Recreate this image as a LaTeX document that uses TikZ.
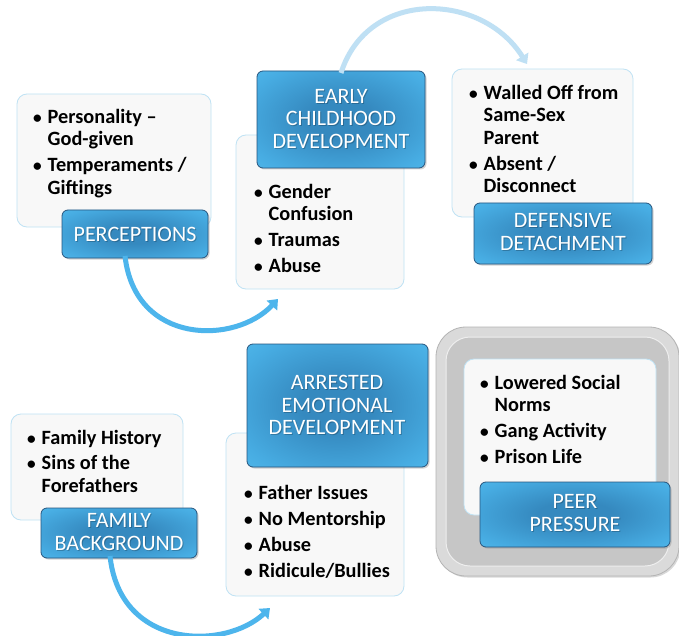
\documentclass[tikz,border=0pt]{standalone}
\usepackage{fontspec}
\setmainfont{Carlito}
\usetikzlibrary{arrows.meta,shadows}
\definecolor{boxfill}{HTML}{F8F8F8}
\definecolor{boxline}{HTML}{BFE2F4}
\definecolor{lblight}{HTML}{5DCAF7}
\definecolor{lbmid}{HTML}{47ACE2}
\definecolor{lbdark}{HTML}{3589BF}
\definecolor{lbline}{HTML}{27557E}
\definecolor{arrblue}{HTML}{4DB5EC}
\definecolor{arrpale}{HTML}{BFE0F4}
\definecolor{graymid}{HTML}{C6C6C6}
\definecolor{graylight}{HTML}{DADADA}
\definecolor{grayedge}{HTML}{B4B4B4}
\pgfdeclareradialshading{lblshade}{\pgfpoint{0bp}{0bp}}{%
  color(0bp)=(lbdark); color(10bp)=(lbdark); color(30bp)=(lbmid); color(50bp)=(lblight)}
\newcommand\bl[1]{\makebox[14.5pt][l]{\scalebox{0.85}{\textbullet}}#1}
\newcommand\cl[1]{\hspace*{14.5pt}#1}
\tikzset{
  txtbox/.style={draw=boxline, line width=0.8pt, fill=boxfill, rounded corners=10pt},
  lblbox/.style={draw=lbline, line width=0.8pt, rounded corners=6pt,
     shading=lblshade,
     drop shadow={opacity=0.35, shadow xshift=1.5pt, shadow yshift=-1.5pt}},
  lbltext/.style={text=white, align=center, font=\fontsize{22}{22.5}\selectfont},
  lblshadow/.style={text=black, opacity=0.22, align=center, font=\fontsize{22}{22.5}\selectfont},
  bultext/.style={anchor=north west, align=left, inner sep=0pt,
     font=\fontsize{20.3}{22.5}\selectfont\bfseries},
  flowarrow/.style={draw=arrblue, line width=5pt,
     -{Triangle[width=14pt,length=9pt]}},
  palearrow/.style={draw=arrpale, line width=5pt,
     -{Triangle[width=14pt,length=9pt]}}
}
\begin{document}
\begin{tikzpicture}[x=1pt,y=-1pt]
\useasboundingbox (0,0) rectangle (679,636);
\fill[white] (0,0) rectangle (679,636);

% ---------- Perceptions ----------
\draw[txtbox] (17,94) rectangle (211,227);
\node[bultext] (t1) at (33,109) {\bl{Personality –}\\\cl{God-given}\\[3.5pt]\bl{Temperaments /}\\\cl{Giftings}};
\shadedraw[lblbox] (62,210) rectangle (208,258);
\node[lblshadow] (s1) at (136,235) {PERCEPTIONS};
\node[lbltext] (l1) at (135,234) {PERCEPTIONS};
\coordinate (l1b) at (125,256);

% ---------- Early childhood ----------
\draw[txtbox] (236,135) rectangle (404,289);
\node[bultext] (t2) at (254,184) {\bl{Gender}\\\cl{Confusion}\\[3.5pt]\bl{Traumas}\\[3.5pt]\bl{Abuse}};
\shadedraw[lblbox] (257,71) rectangle (425,168);
\node[lblshadow] (s2) at (342,120) {EARLY\\CHILDHOOD\\DEVELOPMENT};
\node[lbltext] (l2) at (341,119) {EARLY\\CHILDHOOD\\DEVELOPMENT};
\coordinate (l2t) at (341,73);
\coordinate (t2in) at (278,299);

% ---------- Defensive detachment ----------
\draw[txtbox] (452,69) rectangle (633,217);
\node[bultext] (t3) at (469,85) {\bl{Walled Off from}\\\cl{Same-Sex}\\\cl{Parent}\\[3.5pt]\bl{Absent /}\\\cl{Disconnect}};
\shadedraw[lblbox] (474,203) rectangle (652,264);
\node[lblshadow] (s3) at (564,233) {DEFENSIVE\\DETACHMENT};
\node[lbltext] (l3) at (563,232) {DEFENSIVE\\DETACHMENT};
\coordinate (t3in) at (527,64);

% ---------- Family background ----------
\draw[txtbox] (11,414) rectangle (183,520);
\node[bultext] (t4) at (27,430) {\bl{Family History}\\[3pt]\bl{Sins of the}\\\cl{Forefathers}};
\shadedraw[lblbox] (41,508) rectangle (197,558);
\node[lblshadow] (s4) at (120,533) {FAMILY\\BACKGROUND};
\node[lbltext] (l4) at (119,532) {FAMILY\\BACKGROUND};
\coordinate (l4b) at (110,556);

% ---------- Arrested emotional development ----------
\draw[txtbox] (226,433) rectangle (404,596);
\node[bultext] (t5) at (244,485) {\bl{Father Issues}\\[3.5pt]\bl{No Mentorship}\\[3.5pt]\bl{Abuse}\\[3.5pt]\bl{Ridicule/Bullies}};
\shadedraw[lblbox] (247,344) rectangle (428,467);
\node[lblshadow] (s5) at (338,406) {ARRESTED\\EMOTIONAL\\DEVELOPMENT};
\node[lbltext] (l5) at (337,405) {ARRESTED\\EMOTIONAL\\DEVELOPMENT};
\coordinate (t5in) at (270,608);

% ---------- Peer pressure ----------
\draw[rounded corners=30pt, fill=graylight, draw=grayedge, line width=0.8pt,
      drop shadow={opacity=0.3, shadow xshift=1.5pt, shadow yshift=-1.5pt}]
      (436,327) rectangle (679,576);
\draw[rounded corners=24pt, fill=graymid, draw=white!70!graymid, line width=1pt] (446,337) rectangle (669,566);
\draw[txtbox] (464,359) rectangle (656,515);
\node[bultext] (t6) at (480,375) {\bl{Lowered Social}\\\cl{Norms}\\[3.5pt]\bl{Gang Activity}\\[3.5pt]\bl{Prison Life}};
\shadedraw[lblbox] (480,482) rectangle (670,547);
\node[lblshadow] (s6) at (576,514) {PEER\\PRESSURE};
\node[lbltext] (l6) at (575,513) {PEER\\PRESSURE};

% ---------- Connectors ----------
\draw[flowarrow] (l1b) .. controls (135,345) and (235,345) .. (t2in);
\draw[palearrow] (l2t) .. controls (368,-12) and (482,-8) .. (t3in);
\draw[flowarrow] (l4b) .. controls (120,650) and (225,650) .. (t5in);
\end{tikzpicture}
\end{document}
